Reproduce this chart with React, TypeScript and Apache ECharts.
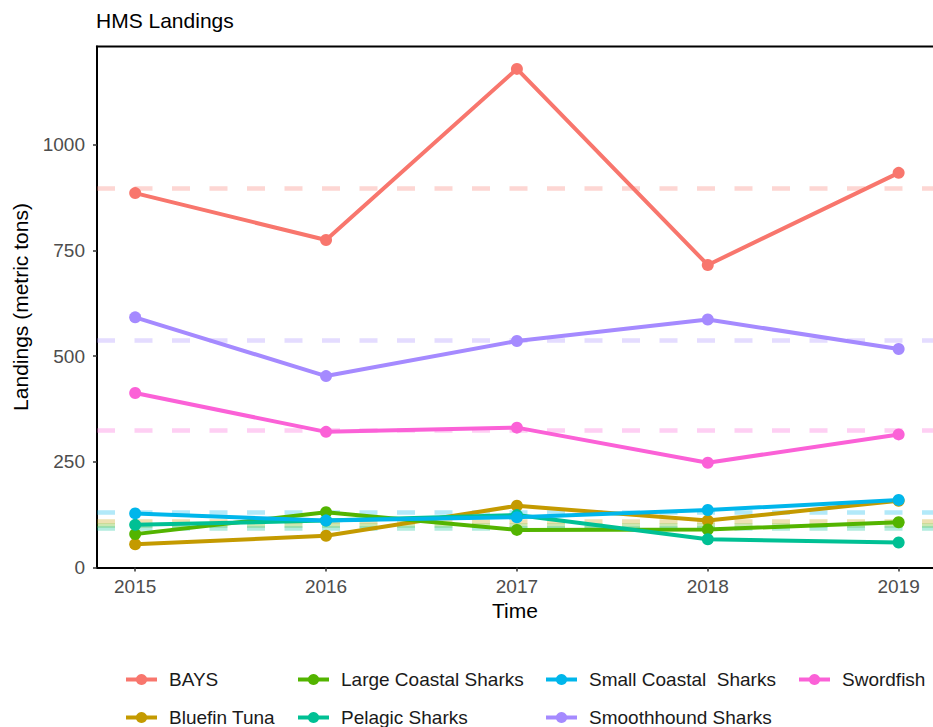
import React, { useEffect, useRef } from "react";
import * as echarts from "echarts";

const years = [2015, 2016, 2017, 2018, 2019];
const seriesNames = [
  "BAYS",
  "Bluefin Tuna",
  "Large Coastal Sharks",
  "Pelagic Sharks",
  "Small Coastal  Sharks",
  "Smoothhound Sharks",
  "Swordfish",
];
const bays = [886, 775, 1180, 716, 934];
const bluefinTuna = [55, 75, 146, 111, 158];
const largeCoastal = [79, 131, 89, 90, 107];
const pelagic = [101, 111, 124, 67, 59];
const smallCoastal = [128, 111, 119, 136, 160];
const smoothhound = [592, 453, 536, 587, 517];
const swordfish = [413, 321, 331, 248, 315];
const yTicks = [0, 250, 500, 750, 1000];

const colors = ["#F8766D", "#C49A00", "#53B400", "#00C094", "#00B6EB", "#A58AFF", "#FB61D7"];
const values = [bays, bluefinTuna, largeCoastal, pelagic, smallCoastal, smoothhound, swordfish];

const FONT = "'Liberation Sans', Arial, Helvetica, sans-serif";

export default function App() {
  const ref = useRef<HTMLDivElement>(null);
  useEffect(() => {
    if (!ref.current) return;
    const chart = echarts.init(ref.current, null, { renderer: "svg" });
    const series = seriesNames.map((name, i) => ({
      name,
      type: "line",
      data: years.map((y, j) => [y, values[i][j]]),
      color: colors[i],
      symbol: "circle",
      symbolSize: 12,
      lineStyle: { width: 4, color: colors[i] },
      itemStyle: { color: colors[i] },
      z: 3,
      markLine: {
        silent: true,
        z: 1,
        symbol: ["none", "none"],
        label: { show: false },
        emphasis: { disabled: true },
        lineStyle: { type: [18, 19.5], width: 4.5, color: colors[i], opacity: 0.3 },
        data: [{ type: "average", valueDim: "y" }],
      },
    }));
    const legendCol = (names: string[], left: number) => ({
      orient: "vertical",
      left,
      top: 670,
      padding: 0,
      itemGap: 19,
      itemWidth: 31,
      itemHeight: 14,
      data: names,
      selectedMode: false,
      lineStyle: { width: 4 },
      textStyle: { fontSize: 19, color: "#1a1a1a", fontFamily: FONT, padding: [0, 0, 0, 7] },
    });
    chart.setOption({
      animation: false,
      title: {
        text: "HMS Landings",
        left: 96,
        top: 10,
        padding: 0,
        textStyle: { fontSize: 21, fontWeight: "normal", color: "#000", fontFamily: FONT },
      },
      grid: {
        left: 97,
        right: 0,
        top: 46.5,
        bottom: 159.5,
        show: false,
        containLabel: false,
      },
      graphic: [
        {
          type: "line",
          shape: { x1: 96, y1: 46.5, x2: 933, y2: 46.5 },
          style: { stroke: "#000", lineWidth: 2 },
          silent: true,
        },
      ],
      legend: [
        legendCol([seriesNames[0], seriesNames[1]], 124),
        legendCol([seriesNames[2], seriesNames[3]], 296),
        legendCol([seriesNames[4], seriesNames[5]], 544),
        legendCol([seriesNames[6]], 797),
      ],
      xAxis: {
        type: "value",
        min: 2014.8,
        max: 2019.18,
        name: "Time",
        nameLocation: "middle",
        nameGap: 32,
        nameTextStyle: { fontSize: 21, color: "#000", fontFamily: FONT },
        axisLine: { show: true, lineStyle: { color: "#000", width: 2 } },
        axisTick: { show: true, length: 4, lineStyle: { color: "#333", width: 1.5 }, customValues: years },
        axisLabel: { fontSize: 19, color: "#4D4D4D", fontFamily: FONT, margin: 9, customValues: years, formatter: (v: number) => String(v) },
        splitLine: { show: false },
      },
      yAxis: {
        type: "value",
        min: 0,
        max: 1233,
        name: "Landings (metric tons)",
        nameLocation: "middle",
        nameGap: 66,
        nameTextStyle: { fontSize: 21, color: "#000", fontFamily: FONT },
        axisLine: { show: true, lineStyle: { color: "#000", width: 2 } },
        axisTick: { show: true, length: 4, lineStyle: { color: "#333", width: 1.5 }, customValues: yTicks },
        axisLabel: { fontSize: 19, color: "#4D4D4D", fontFamily: FONT, margin: 12, customValues: yTicks, formatter: (v: number) => String(v) },
        splitLine: { show: false },
      },
      series,
    });
    return () => chart.dispose();
  }, []);
  return (
    <div
      ref={ref}
      style={{ position: "absolute", left: 0, top: 0, width: 933, height: 727, background: "#fff" }}
    />
  );
}
